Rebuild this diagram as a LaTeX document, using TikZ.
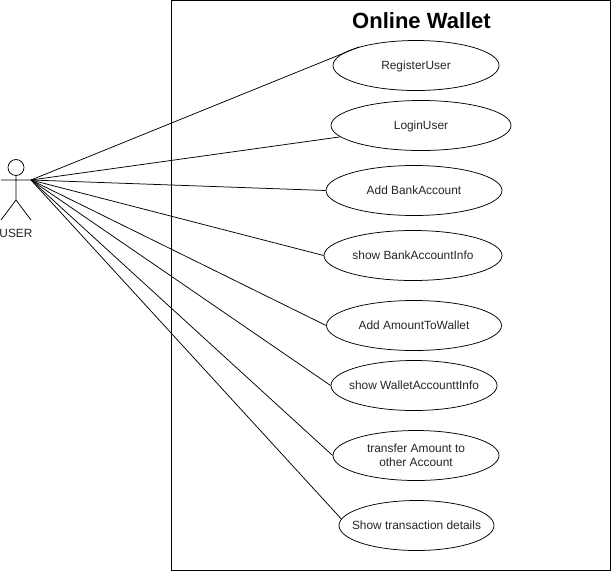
\documentclass[tikz,border=0pt]{standalone}
\usepackage{fontspec}
\setmainfont{Liberation Sans}
\usetikzlibrary{shapes.geometric}
\begin{document}
\begin{tikzpicture}[x=1pt,y=-1pt,line width=0.75pt,
 uc/.style={draw,ellipse,inner xsep=-30pt,inner ysep=0pt,minimum height=50,font=\fontsize{11.9}{14}\selectfont,text=black!85,align=center},
 oneline/.style={text height=8.5pt,text depth=0pt}]
\useasboundingbox (0,0) rectangle (612,571);
\fill[white] (0,0) rectangle (612,571);
\draw (171.5,0.5) rectangle (610.5,570.5);
\node[font=\bfseries\fontsize{22}{26}\selectfont,anchor=center] (title) at (421.5,21) {Online Wallet};
\coordinate (hand) at (31,180);
\node[uc,oneline,minimum width=166] (u1) at (416,65.5) {RegisterUser};
\node[uc,oneline,minimum width=180] (u2) at (421,125.5) {LoginUser};
\node[uc,oneline,minimum width=176] (u3) at (414,190.5) {Add BankAccount};
\node[uc,oneline,minimum width=178] (u4) at (413,255.5) {show BankAccountInfo};
\node[uc,oneline,minimum width=175] (u5) at (414,325.5) {Add AmountToWallet};
\node[uc,oneline,minimum width=166] (u6) at (414,385.5) {show WalletAccounttInfo};
\node[uc,minimum width=166] (u7) at (416,455.5) {transfer Amount to\\other Account};
\node[uc,oneline,minimum width=155] (u8) at (416.5,525.5) {Show transaction details};
\draw (16,167.5) circle (8);
\draw (16,175.5) -- (16,200) (1,180) -- (31,180) (16,200) -- (1,220) (16,200) -- (31,220);
\node[font=\fontsize{11.9}{14}\selectfont,text=black!85] (user) at (16,233.5) {USER};
\draw (hand) -- (u1.162);
\draw (hand) -- (u2.188);
\draw (hand) -- (u3.west);
\draw (hand) -- (u4.west);
\draw (hand) -- (u5.west);
\draw (hand) -- (u6.west);
\draw (hand) -- (u7.west);
\draw (hand) -- (u8.175);
\end{tikzpicture}
\end{document}
